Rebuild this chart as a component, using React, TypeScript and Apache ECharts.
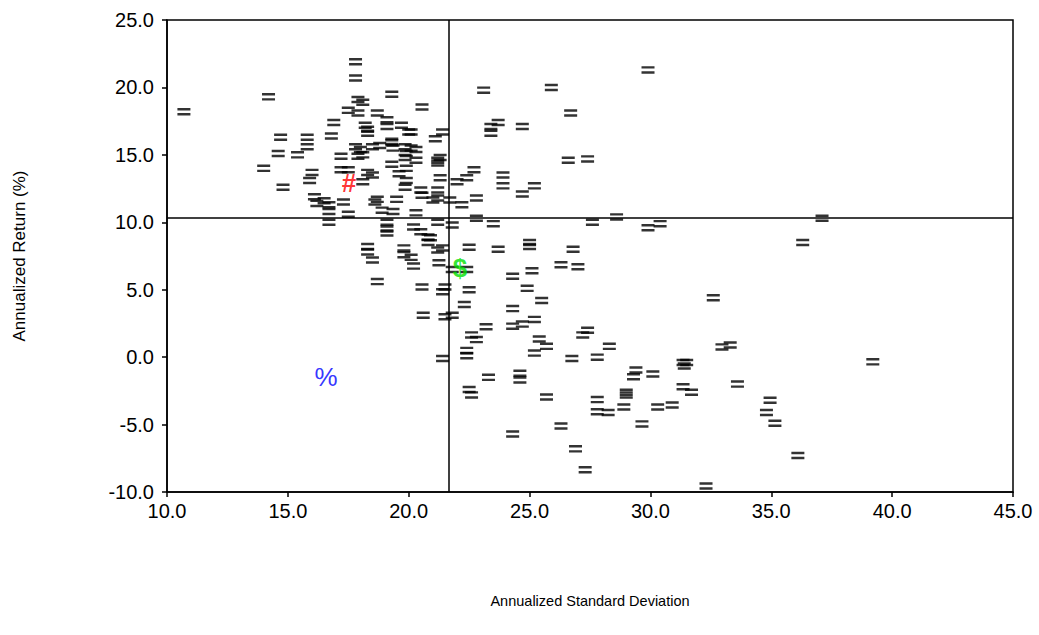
import React, { useEffect, useRef } from "react";
import * as echarts from "echarts";

const xTicks = [10, 15, 20, 25, 30, 35, 40, 45];
const yTicks = [-10, -5, 0, 5, 10, 15, 20, 25];

// [annualized std dev, annualized return]
const funds: number[][] = [
  [10.7, 18.2], [14.2, 19.3], [14.7, 16.3], [14.6, 15.1], [14.0, 14.0], [14.8, 12.6],
  [15.8, 16.3], [15.8, 15.6], [15.4, 15.0], [16.0, 13.7], [15.9, 13.1], [16.1, 11.9],
  [16.2, 11.4], [16.5, 11.6], [16.7, 11.3], [16.7, 10.8], [16.7, 10.0], [16.9, 17.4],
  [16.8, 16.4],
  [17.8, 21.9], [17.8, 20.7], [17.9, 19.1], [18.1, 18.9], [17.5, 18.3], [17.9, 18.1],
  [18.7, 18.1], [18.2, 17.2], [18.3, 16.9], [17.8, 15.6], [18.0, 15.4], [17.2, 14.9],
  [17.9, 14.9], [17.5, 13.9], [18.3, 13.7], [18.5, 13.5], [18.1, 13.0], [17.2, 13.9],
  [17.3, 11.5], [17.5, 10.6], [18.6, 11.5], [18.3, 8.2], [18.3, 7.8], [18.5, 7.2],
  [18.7, 5.6], [18.3, 16.6], [18.5, 15.6], [18.8, 15.7], [18.1, 15.0], [18.7, 11.7],
  [19.3, 19.5], [19.1, 17.6], [19.1, 17.1], [19.3, 15.9], [19.35, 15.5], [19.3, 16.0],
  [19.85, 15.6], [19.85, 14.8], [19.3, 14.3], [19.6, 13.6], [19.9, 13.1], [19.85, 12.6],
  [19.9, 14.0], [19.9, 15.1], [19.5, 11.7], [18.9, 10.9], [19.35, 10.8], [19.1, 10.0],
  [19.1, 9.5], [19.1, 9.2], [19.8, 8.1], [19.8, 7.6], [20.1, 7.4], [20.2, 6.75],
  [19.7, 17.2], [20.0, 16.7],
  [20.55, 18.55], [20.1, 16.7], [20.1, 15.5], [20.3, 15.4], [20.3, 14.6], [21.4, 16.7],
  [21.1, 16.2], [21.2, 14.6], [21.2, 14.4], [21.3, 14.8], [20.5, 12.4], [21.2, 12.4],
  [21.2, 11.8], [21.3, 13.3], [20.55, 12.0], [21.7, 11.65], [21.0, 11.65], [20.3, 10.7],
  [20.2, 9.65], [20.5, 9.3], [21.2, 10.0], [21.8, 9.8], [20.9, 8.85], [20.8, 8.9],
  [20.8, 8.5], [21.2, 7.95], [21.4, 8.1], [21.25, 7.0], [21.8, 6.5], [20.55, 5.2],
  [21.5, 5.2], [21.4, 4.85], [20.6, 3.1], [21.5, 3.0], [21.8, 3.1], [21.4, -0.1],
  [23.1, 19.8], [25.9, 20.0], [29.9, 21.3], [26.7, 18.1], [23.4, 17.1], [23.4, 16.6],
  [23.7, 17.4], [24.7, 17.1], [22.7, 13.9], [22.4, 13.3], [22.0, 13.0], [23.9, 13.5],
  [23.9, 12.7], [24.7, 12.1], [25.2, 12.7], [26.6, 14.6], [27.4, 14.7], [22.2, 11.3],
  [22.8, 11.8], [22.8, 10.3], [23.5, 9.9], [27.6, 10.0], [28.6, 10.4], [37.1, 10.3],
  [36.3, 8.5], [29.9, 9.6], [30.4, 9.9], [22.5, 8.15], [23.7, 8.0], [25.0, 8.5],
  [25.0, 8.2], [26.8, 8.0], [26.3, 6.85], [27.0, 6.7], [24.3, 6.0], [25.1, 6.4],
  [24.9, 5.1], [25.5, 4.2], [24.3, 3.6], [24.3, 2.3], [24.7, 2.45], [25.2, 2.8],
  [25.4, 1.35], [25.7, 0.8], [25.2, 0.3], [27.4, 2.0], [27.2, 1.65], [26.75, -0.1],
  [27.8, 0.0], [28.3, 0.8], [22.3, 3.9], [22.5, 5.0], [22.4, 6.5], [23.2, 2.25],
  [22.6, 1.65], [22.8, 1.3], [22.4, 0.5], [22.4, 0.1], [23.3, -1.5], [24.6, -1.2],
  [24.6, -1.7], [25.7, -2.95], [22.5, -2.4], [22.6, -2.8],
  [29.4, -0.95], [29.3, -1.45], [30.1, -1.25], [31.35, -0.4], [31.5, -0.4], [31.4, -0.65],
  [27.8, -3.15], [27.8, -4.05], [28.25, -4.1], [29.0, -2.6], [29.0, -2.8], [28.9, -3.7],
  [30.3, -3.7], [30.9, -3.55], [31.35, -2.2], [31.7, -2.6], [29.65, -4.95], [26.3, -5.1],
  [24.3, -5.7], [26.9, -6.8], [27.3, -8.35], [32.6, 4.4], [32.96, 0.76], [33.3, 0.9],
  [33.6, -2.0], [34.95, -3.2], [34.8, -4.1], [35.15, -4.9], [36.1, -7.3], [32.3, -9.55],
  [39.2, -0.35],
];

const avgStdDev = 21.65;
const avgReturn = 10.3;

const specials = [
  { name: "#", value: [17.53, 12.9], color: "#ff0000", weight: "bold" },
  { name: "$", value: [22.12, 6.6], color: "#00e000", weight: "bold" },
  { name: "%", value: [16.58, -1.5], color: "#0000ff", weight: "normal" },
];

const FONT = "'Liberation Sans', Arial, sans-serif";
const EQ = "path://M0,0H10V2.3H0Z M0,4.7H10V7H0Z";

export default function App() {
  const ref = useRef<HTMLDivElement>(null);
  useEffect(() => {
    document.body.style.margin = "0";
    if (!ref.current) return;
    const chart = echarts.init(ref.current, undefined, { renderer: "svg" });
    const specialSeries = specials.map((s) => ({
      type: "scatter",
      name: s.name,
      data: [s.value],
      symbol: "circle",
      symbolSize: 2,
      itemStyle: { color: "rgba(0,0,0,0)" },
      label: {
        show: true,
        position: "inside",
        formatter: s.name,
        color: s.color,
        fontSize: 26,
        fontWeight: s.weight,
        fontFamily: FONT,
      },
      z: 5,
    }));
    chart.setOption({
      animation: false,
      backgroundColor: "#ffffff",
      textStyle: { fontFamily: FONT },
      grid: {
        left: 167,
        top: 20,
        right: 26,
        bottom: 143,
        show: true,
        borderColor: "#000",
        borderWidth: 1.5,
      },
      xAxis: {
        type: "value",
        min: xTicks[0],
        max: xTicks[xTicks.length - 1],
        interval: 5,
        name: "Annualized Standard Deviation",
        nameLocation: "middle",
        nameGap: 101,
        nameTextStyle: { fontSize: 14.5, color: "#000", fontFamily: FONT },
        axisLine: { onZero: false, lineStyle: { color: "#000", width: 1.5 } },
        axisTick: { show: true, length: 5, lineStyle: { color: "#000", width: 1.5 } },
        axisLabel: {
          color: "#000",
          fontSize: 20,
          margin: 9,
          fontFamily: FONT,
          formatter: (v: number) => v.toFixed(1),
        },
        splitLine: { show: false },
      },
      yAxis: {
        type: "value",
        min: yTicks[0],
        max: yTicks[yTicks.length - 1],
        interval: 5,
        name: "Annualized Return (%)",
        nameLocation: "middle",
        nameGap: 139,
        nameRotate: 90,
        nameTextStyle: { fontSize: 17, color: "#000", fontFamily: FONT },
        axisLine: { onZero: false, lineStyle: { color: "#000", width: 1.5 } },
        axisTick: { show: true, length: 5, lineStyle: { color: "#000", width: 1.5 } },
        axisLabel: {
          color: "#000",
          fontSize: 20,
          margin: 13,
          fontFamily: FONT,
          formatter: (v: number) => v.toFixed(1),
        },
        splitLine: { show: false },
      },
      series: [
        {
          type: "scatter",
          name: "Funds",
          data: funds,
          symbol: EQ,
          symbolSize: [13, 7.5],
          itemStyle: { color: "#000" },
          markLine: {
            silent: true,
            symbol: "none",
            label: { show: false },
            lineStyle: { color: "#000", width: 1.5, type: "solid" },
            data: [{ xAxis: avgStdDev }, { yAxis: avgReturn }],
          },
          z: 3,
        },
        ...specialSeries,
      ],
    });
    return () => chart.dispose();
  }, []);
  return <div ref={ref} style={{ width: 1039, height: 635 }} />;
}
